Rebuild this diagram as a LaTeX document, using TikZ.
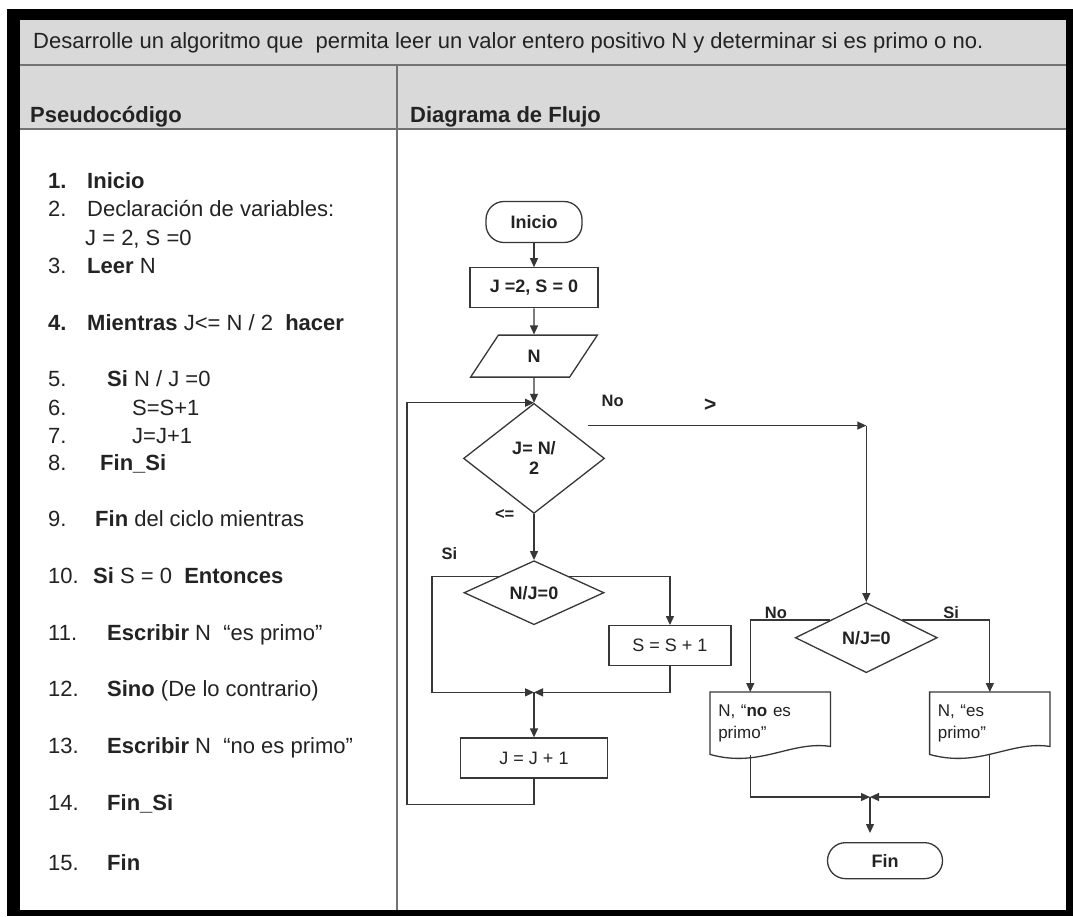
\documentclass[tikz,border=0pt]{standalone}
\usepackage{fontspec}
\setmainfont{Liberation Sans}
\usepackage{tikz}
\usetikzlibrary{shapes.geometric, arrows.meta, positioning, calc}
\definecolor{fcline}{RGB}{55,55,55}
\definecolor{fctext}{RGB}{35,35,35}
\definecolor{fchead}{RGB}{217,217,217}
\definecolor{fcrule}{RGB}{115,115,115}
\newcommand{\flowfont}{\fontsize{18}{20}\selectfont}
\newcommand{\docfont}{\fontsize{17}{22}\selectfont}
\newcommand{\labfont}{\fontsize{16.5}{19}\selectfont}
\newcommand{\pseudofont}{\fontsize{22}{26}\selectfont}
\newcommand{\headfont}{\fontsize{22}{26}\selectfont}
% outline of a document symbol (flat top, wavy bottom)
\newcommand{\docoutline}[1]{%
  \draw[connline] (#1.north west) -- (#1.north east) -- ([yshift=9pt]#1.south east)
    .. controls +(-40,-6) and +(50,14) .. ([yshift=1pt]#1.south west) -- cycle;}
\tikzset{
  terminal/.style  = {rectangle, rounded corners=18pt, draw=fcline, line width=1.3pt,
                      minimum width=96pt, minimum height=41pt, text=fctext,
                      font=\flowfont\bfseries, inner sep=2pt},
  process/.style   = {rectangle, draw=fcline, line width=1.3pt, text=fctext,
                      minimum height=40pt, font=\flowfont, inner sep=2pt},
  inout/.style     = {trapezium, trapezium left angle=68, trapezium right angle=112,
                      trapezium stretches=true,
                      draw=fcline, line width=1.3pt, text=fctext,
                      minimum width=127pt, minimum height=42pt,
                      font=\flowfont\bfseries, inner sep=2pt},
  decision/.style  = {diamond, draw=fcline, line width=1.3pt, text=fctext, align=center,
                      inner sep=0pt, font=\flowfont\bfseries},
  docbox/.style    = {rectangle, minimum width=120pt, minimum height=63pt,
                      text width=104pt, align=left, text=fctext,
                      font=\docfont, inner sep=0pt},
  connline/.style  = {line width=1.3pt, draw=fcline},
  flow/.style      = {-{Triangle[length=9pt,width=8pt]}, line width=1.3pt, draw=fcline},
  flowlab/.style   = {font=\labfont\bfseries, text=fctext, inner sep=1pt},
  pseudo/.style    = {anchor=base west, font=\pseudofont, text=fctext, inner sep=0pt},
  headtext/.style  = {anchor=base west, font=\headfont, text=fctext, inner sep=0pt},
  tablerule/.style = {line width=2pt, draw=fcrule},
}
\begin{document}
\begin{tikzpicture}[x=1pt, y=-1pt]
\useasboundingbox (0,0) rectangle (1073,916);

% ---------- Frame and table ----------
\fill[black] (7,9) rectangle (1073,916);
\fill[white] (20,20) rectangle (1066,910);
\fill[fchead] (20,20) rectangle (1066,129);
\draw[tablerule] (20,65) -- (1066,65);
\draw[tablerule] (20,129) -- (1066,129);
\draw[tablerule] (397,65) -- (397,910);

\node[headtext] (enunciado) at (33,48) {Desarrolle un algoritmo que~ permita leer un valor entero positivo N y determinar si es primo o no.};
\node[headtext, font=\pseudofont\bfseries] (pseudotit) at (30,122) {Pseudocódigo};
\node[headtext, font=\pseudofont\bfseries] (diagtit) at (410,122) {Diagrama de Flujo};

% ---------- Pseudocode ----------
\node[pseudo] (n1) at (48,188) {\bfseries 1.};
\node[pseudo] (p1) at (87,188) {\bfseries Inicio};
\node[pseudo] (n2) at (48,216) {2.};
\node[pseudo] (p2) at (87,216) {Declaración de variables:};
\node[pseudo] (p2b) at (85,245) {J = 2, S =0};
\node[pseudo] (n3) at (48,273) {3.};
\node[pseudo] (p3) at (87,273) {\textbf{Leer} N};
\node[pseudo] (n4) at (48,330) {\bfseries 4.};
\node[pseudo] (p4) at (87,330) {\textbf{Mientras} J<= N / 2~ \textbf{hacer}};
\node[pseudo] (n5) at (48,386) {5.};
\node[pseudo] (p5) at (107,386) {\textbf{Si} N / J =0};
\node[pseudo] (n6) at (48,415) {6.};
\node[pseudo] (p6) at (132,415) {S=S+1};
\node[pseudo] (n7) at (48,443) {7.};
\node[pseudo] (p7) at (132,443) {J=J+1};
\node[pseudo] (n8) at (48,470) {8.};
\node[pseudo] (p8) at (100,470) {\textbf{Fin\_Si}};
\node[pseudo] (n9) at (48,526) {9.};
\node[pseudo] (p9) at (95,526) {\textbf{Fin} del ciclo mientras};
\node[pseudo] (n10) at (48,583) {10.};
\node[pseudo] (p10) at (93,583) {\textbf{Si} S = 0~ \textbf{Entonces}};
\node[pseudo] (n11) at (48,640) {11.};
\node[pseudo] (p11) at (107,640) {\textbf{Escribir} N~ “es primo”};
\node[pseudo] (n12) at (48,696) {12.};
\node[pseudo] (p12) at (107,696) {\textbf{Sino} (De lo contrario)};
\node[pseudo] (n13) at (48,753) {13.};
\node[pseudo] (p13) at (107,753) {\textbf{Escribir} N~ “no es primo”};
\node[pseudo] (n14) at (48,810) {14.};
\node[pseudo] (p14) at (107,810) {\textbf{Fin\_Si}};
\node[pseudo] (n15) at (48,870) {15.};
\node[pseudo] (p15) at (107,870) {\textbf{Fin}};

% ---------- Flowchart: main column ----------
\node[terminal] (inicio) at (534,222) {Inicio};
\node[process, minimum width=128pt, font=\flowfont\bfseries, below=24pt of inicio] (init) {J =2, S = 0};
\node[inout, below=26pt of init] (leer) {N};
\node[decision, minimum width=141pt, minimum height=110pt, below=25pt of leer] (cond) {J= N/\\2};
\node[decision, minimum width=140pt, minimum height=64pt, aspect=2.2, below=46pt of cond] (dec) {N/J=0};
\node[process, minimum width=122pt, below right=16pt and 39pt of dec] (suma) {S = S + 1};
\node[process, minimum width=147pt, below=112pt of dec] (incr) {J = J + 1};
\coordinate (j1) at ($(incr.north)+(0,-45)$);
\coordinate (sicorner) at ($(j1)+(-102,0)$);
\coordinate (lpcorner) at ($(incr.south)+(-127,26)$);

% ---------- Flowchart: right branch ----------
\node[decision, minimum width=142pt, minimum height=70pt, aspect=2.2, right=190pt of dec, yshift=-45pt] (dec2) {N/J=0};
\coordinate (c1) at ([yshift=5pt]cond.north east -| dec2.north);
\node[docbox, below left=36.5pt and 0pt of dec2] (nodoc) {N, “\textbf{no} es\\primo”};
\node[docbox, below right=36.5pt and 27.5pt of dec2] (sidoc) {N, “es\\primo”};
\docoutline{nodoc}
\docoutline{sidoc}
\coordinate (j2) at (870,797);
\node[terminal, minimum width=115pt, minimum height=36pt, below=45pt of j2, xshift=15pt] (fin) {Fin};

% ---------- Edges: main loop ----------
\draw[flow] (inicio) -- (init);
\draw[flow] (init) -- (leer);
\draw[flow] (leer) -- (cond);
\draw[flow] (cond) -- node[flowlab, pos=0, left=18pt] {<=} (dec);
\draw[flow] (dec.north west) -| node[flowlab, pos=0.37, above=15pt] {Si} (sicorner) -- (j1);
\draw[flow] (dec.north east) -| (suma.north);
\draw[flow] (suma.south) |- (j1);
\draw[flow] (j1) -- (incr);
\draw[flow] (incr.south) |- (lpcorner) |- (cond.north);

% ---------- Edges: exit ----------
\draw[flow] ([xshift=18pt,yshift=5pt]cond.north east) -- node[flowlab, pos=0.09, above=17pt] {No}
  node[flowlab, pos=0.44, above=12pt, font=\fontsize{21}{22}\selectfont\bfseries] {>} (c1);
\draw[flow] (c1) -- (dec2.north);
\draw[flow] (dec2.north west) -| node[flowlab, pos=0.34, above=0pt] {No} ([xshift=-20pt]nodoc.north);
\draw[flow] (dec2.north east) -| node[flowlab, pos=0.28, above=0pt] {Si} (sidoc.north);
\draw[flow] ([xshift=-20pt]nodoc.south) |- (j2);
\draw[flow] (sidoc.south) |- (j2);
\draw[flow, shorten >=9pt] (j2) -- (j2 |- fin.north);

\end{tikzpicture}
\end{document}
